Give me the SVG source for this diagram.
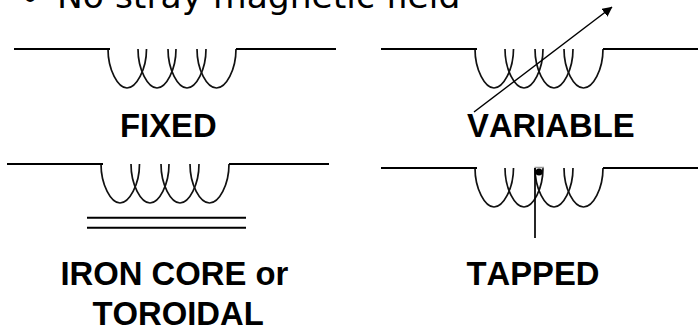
<svg xmlns="http://www.w3.org/2000/svg" xmlns:xlink="http://www.w3.org/1999/xlink" width="698" height="328" viewBox="0 0 698 328">
<style>
.w{fill:none;stroke:#000;stroke-width:2}
.c{fill:none;stroke:#111;stroke-width:1.7}
.l{font-family:"Liberation Sans",Arial,sans-serif;font-weight:700;font-size:32.800px;font-kerning:none;fill:#000}
.t{font-family:"DejaVu Sans",Verdana,sans-serif;font-size:34.500px;fill:#000}
</style>
<defs>
<g id="coil">
<path class="c" d="M108 49C108 70 118 88 127 88C136 88 146.500 70 146.500 49"/>
<path class="c" d="M138 49C138 70 148 88 157 88C166 88 176 70 176 49"/>
<path class="c" d="M168 49C168 70 178 88 187 88C196 88 206 70 206 49"/>
<path class="c" d="M197 49C197 70 207 88 216.500 88C226 88 236 70 236 49"/>
<path class="w" d="M14 49H110M236 49H336"/>
</g>
<marker id="a" viewBox="0 0 10 10" refX="9.500" refY="5" markerWidth="10" markerHeight="10" markerUnits="userSpaceOnUse" orient="auto"><path d="M0 0L10 5L0 10Z" fill="#000"/></marker>
</defs>
<text class="t" x="20" y="10">•</text>
<text class="t" x="57" y="7.500">No stray magnetic field</text>
<g id="fixed"><use xlink:href="#coil" href="#coil"/><text class="l" x="120" y="136.500">FIXED</text></g>
<g id="variable"><use xlink:href="#coil" href="#coil" x="367"/><text class="l" x="467" y="136.500">VARIABLE</text></g>
<g id="iron"><use xlink:href="#coil" href="#coil" x="-7" y="115"/><text class="l" x="60.500" y="285">IRON CORE or</text><text class="l" x="92.500" y="325">TOROIDAL</text></g>
<g id="tapped"><use xlink:href="#coil" href="#coil" x="367" y="119"/><path d="M534.500 167.500H544" stroke="#999" stroke-width="1.500" fill="none"/><circle cx="539" cy="172" r="3.500" fill="#000"/><text class="l" x="466.500" y="285">TAPPED</text></g>
<g id="connectors">
<path d="M474 112L612 7" fill="none" stroke="#000" stroke-width="1.500" marker-end="url(#a)"/>
<path class="w" d="M87 217.700H246M87 227.700H246"/>
<path d="M535 168V238" fill="none" stroke="#000" stroke-width="1.700"/>
</g>
</svg>
